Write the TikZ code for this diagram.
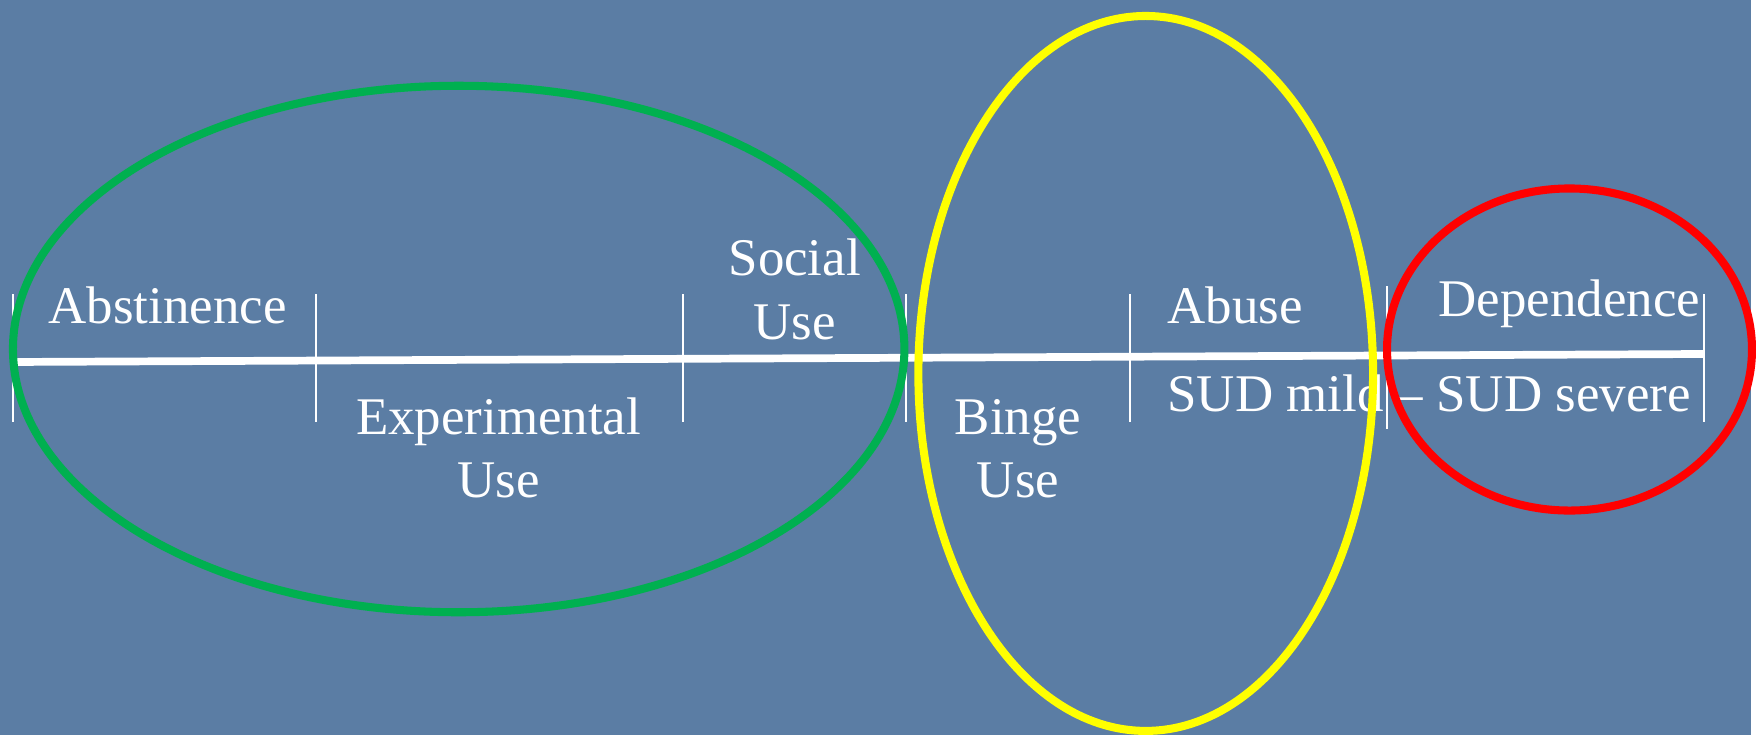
\documentclass[tikz,border=0pt]{standalone}
\usepackage{fontspec}
\usepackage{tikz}
\setmainfont{Liberation Serif}
\definecolor{slate}{RGB}{91, 125, 164}
\definecolor{ringgreen}{RGB}{0, 176, 80}
\definecolor{ringyellow}{RGB}{255, 255, 0}
\definecolor{ringred}{RGB}{255, 0, 0}

\tikzset{
  lbl/.style={text=white, inner sep=0pt, align=center,
    font=\fontsize{15.1pt}{18.1pt}\selectfont},
  tickmark/.style={draw=white, line width=0.6pt},
  ring/.style={line width=2.3pt}
}

\begin{document}
\begin{tikzpicture}
% background
\fill[slate] (0,0) rectangle (17.56,7.37);

% continuum line
\coordinate (lstart) at (0.17,3.74);
\coordinate (lend) at (17.09,3.82);
\draw[white, line width=2.2pt] (lstart) -- (lend);

% ticks
\foreach \x in {0.13,3.17,6.85,9.09,11.33,17.09}
  \draw[tickmark] (\x,4.42) -- (\x,3.14);
\draw[tickmark] (13.91,4.50) -- (13.91,3.07);

% stage labels (base = last line)
\node[lbl, anchor=base] (abst) at (1.68,4.13) {Abstinence};
\node[lbl, anchor=base] (exper) at (5.00,2.38) {Experimental\\Use};
\node[lbl, anchor=base] (social) at (7.97,3.97) {Social\\Use};
\node[lbl, anchor=base] (binge) at (10.21,2.38) {Binge\\Use};
\node[lbl, anchor=base west] (abuse) at (11.70,4.13) {Abuse};
\node[lbl, anchor=base west] (sud) at (11.70,3.24) {SUD mild -- SUD severe};
\node[lbl, anchor=base] (dep) at (15.74,4.20) {Dependence};

% groupings
\draw[ring, ringgreen] (4.60,3.87) ellipse [x radius=4.47, y radius=2.64];
\draw[ring, ringyellow] (11.49,3.625) ellipse [x radius=2.28, y radius=3.585];
\draw[ring, ringred] (15.74,3.865) ellipse [x radius=1.83, y radius=1.615];
\end{tikzpicture}
\end{document}
